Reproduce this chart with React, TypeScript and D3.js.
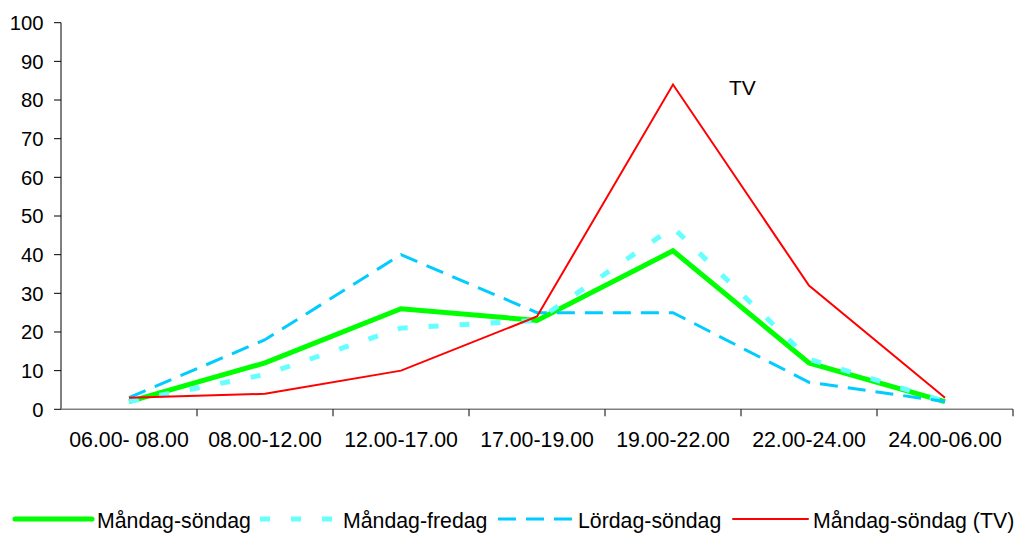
import React from "react";
import * as d3 from "d3";

const categories = ["06.00- 08.00", "08.00-12.00", "12.00-17.00", "17.00-19.00", "19.00-22.00", "22.00-24.00", "24.00-06.00"];
const manSon = [2, 12, 26, 23, 41, 12, 2];
const manFre = [2, 9, 21, 23, 47, 13, 2];
const lorSon = [3, 18, 40, 25, 25, 7, 2];
const tv = [3, 4, 10, 24, 84, 32, 3];
const yTicks = [0, 10, 20, 30, 40, 50, 60, 70, 80, 90, 100];

const seriesList = [
  { name: "Måndag-söndag", values: manSon, color: "#00FF00", width: 5, dash: "" },
  { name: "Måndag-fredag", values: manFre, color: "#66FFFF", width: 5, dash: "10 21" },
  { name: "Lördag-söndag", values: lorSon, color: "#00CCFF", width: 3, dash: "18 10" },
  { name: "Måndag-söndag (TV)", values: tv, color: "#FF0000", width: 2, dash: "" },
];

const legendPos = [
  { x1: 15, x2: 92, tx: 97 },
  { x1: 260, x2: 336, tx: 343 },
  { x1: 498, x2: 574, tx: 578 },
  { x1: 733, x2: 808, tx: 813 },
];

export default function App() {
  const left = 61, right = 1013, top = 22.7, bottom = 409.3;
  const x = d3.scaleBand<string>().domain(categories).range([left, right]);
  const y = d3.scaleLinear().domain([0, 100]).range([bottom, top]);
  const line = d3
    .line<number>()
    .x((_, i) => (x(categories[i]) as number) + x.bandwidth() / 2)
    .y((v) => y(v));
  const font = "'Liberation Sans', Arial, sans-serif";
  const tickXs = categories.map((c) => (x(c) as number) + x.bandwidth());

  return (
    <svg width={1017} height={534} style={{ position: "absolute", left: 0, top: 0, background: "#fff" }} fontFamily={font}>
      {/* y axis */}
      <line x1={left} x2={left} y1={top} y2={bottom} stroke="#000" strokeWidth={1} />
      {yTicks.map((t) => (
        <g key={t}>
          <line x1={left - 7} x2={left} y1={y(t)} y2={y(t)} stroke="#000" />
          <text x={43.5} y={y(t)} dy="0.36em" textAnchor="end" fontSize={20.3} fill="#000">
            {t}
          </text>
        </g>
      ))}
      {/* x axis */}
      <line x1={left} x2={right} y1={bottom} y2={bottom} stroke="#808080" strokeWidth={1.5} />
      {tickXs.map((tx, i) => (
        <line key={i} x1={tx} x2={tx} y1={bottom} y2={bottom + 7} stroke="#000" />
      ))}
      {categories.map((c) => (
        <text key={c} x={(x(c) as number) + x.bandwidth() / 2} y={447} textAnchor="middle" fontSize={21.3} fill="#000">
          {c}
        </text>
      ))}
      {/* series */}
      {seriesList.map((s) => (
        <path
          key={s.name}
          d={line(s.values) as string}
          fill="none"
          stroke={s.color}
          strokeWidth={s.width}
          strokeDasharray={s.dash || undefined}
          strokeLinejoin="miter"
        />
      ))}
      <text x={729} y={95} fontSize={21} fill="#000">TV</text>
      {/* legend */}
      {seriesList.map((s, i) => (
        <g key={s.name}>
          <line
            x1={legendPos[i].x1}
            x2={legendPos[i].x2}
            y1={519}
            y2={519}
            stroke={s.color}
            strokeWidth={s.width}
            strokeDasharray={s.dash || undefined}
            strokeLinecap={s.dash ? "butt" : "round"}
          />
          <text x={legendPos[i].tx} y={528} fontSize={21.3} fill="#000">
            {s.name}
          </text>
        </g>
      ))}
    </svg>
  );
}
